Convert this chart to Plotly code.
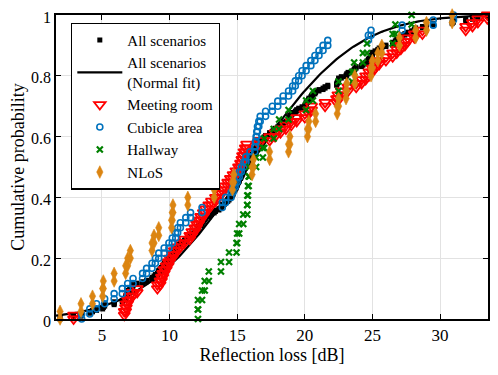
import math
import numpy as np
import plotly.graph_objects as go

# Reflection loss samples (dB), one list per scenario
meeting_room = [
    2.9, 6.65, 6.75, 6.8, 6.9, 7.05, 7.25, 7.6, 9.1, 9.3,
    9.4, 9.5, 9.6, 9.75, 9.9, 10.0, 10.2, 10.35, 10.6, 10.8,
    11.1, 11.5, 11.65, 11.85, 12.0, 12.15, 12.3, 12.5, 12.65, 12.9,
    13.1, 13.4, 13.65, 13.85, 14.05, 14.3, 14.5, 14.7, 14.9, 15.1,
    15.25, 15.35, 15.4, 15.5, 15.6, 15.7, 16.6, 17.4, 17.8, 18.2,
    18.6, 19.0, 19.4, 20.0, 20.3, 20.5, 21.5, 22.35, 22.45, 22.7,
    23.2, 23.8, 24.2, 24.5, 24.75, 25.0, 25.2, 25.5, 26.0, 26.5,
    26.8, 27.1, 27.4, 27.6, 28.1, 28.7, 31.9, 32.4, 32.8, 33.5,
]
cubicle_area = [
    3.5, 4.1, 4.6, 5.2, 5.9, 6.5, 6.9, 7.3, 8.0, 8.3,
    8.7, 8.95, 9.2, 9.6, 9.95, 10.2, 10.45, 10.6, 10.8, 11.2,
    11.55, 12.4, 13.9, 14.15, 14.55, 14.7, 14.85, 15.0, 15.15, 15.3,
    15.5, 15.65, 15.95, 16.3, 16.35, 16.4, 16.45, 16.5, 16.6, 16.7,
    17.1, 17.6, 18.0, 18.4, 18.8, 19.1, 19.3, 19.55, 19.8, 20.1,
    20.45, 20.75, 21.05, 21.35, 21.7, 24.7, 24.9, 27.2, 29.5, 31.0,
]
hallway = [
    12.1, 12.1, 12.4, 12.6, 12.9, 13.8, 14.4, 14.95, 15.0, 15.15,
    15.45, 15.75, 15.75, 15.8, 15.85, 15.9, 16.4, 16.9, 17.0, 17.7,
    18.1, 18.8, 20.1, 20.6, 22.5, 23.5, 23.65, 24.3, 24.6, 26.5,
    26.7, 27.9,
]
nlos = [
    1.9, 3.45, 4.3, 5.05, 5.1, 5.9, 6.75, 6.9, 7.1, 8.7,
    8.85, 9.2, 10.15, 10.2, 10.25, 11.35, 13.3, 14.65, 14.75, 16.1,
    16.2, 17.4, 18.8, 18.9, 20.2, 20.3, 20.8, 22.4, 22.5, 23.05,
    23.1, 23.7, 24.9, 25.0, 25.4, 25.7, 27.0, 28.2, 29.0, 30.9,
]
all_scenarios = meeting_room + cubicle_area + hallway + nlos

# normal fit parameters (dB)
fit_mean = 15.8
fit_std = 6.2
fit_span = [1.6, 33.55]

x_ticks = [5, 10, 15, 20, 25, 30]
y_ticks = [0, 0.2, 0.4, 0.6, 0.8, 1]
y_tick_labels = ['0', '0.2', '0.4', '0.6', '0.8', '1']

FONT = 'Liberation Serif, Times New Roman, serif'


def ecdf_stairs(samples):
    # corners of the empirical CDF staircase
    xs = np.sort(np.asarray(samples, dtype=float))
    n = len(xs)
    x = np.repeat(xs, 2)
    y = np.empty(2 * n)
    y[0::2] = np.arange(n) / n
    y[1::2] = np.arange(1, n + 1) / n
    return x, y


fit_x = np.linspace(fit_span[0], fit_span[1], 200)
fit_y = [0.5 * (1 + math.erf((v - fit_mean) / (fit_std * math.sqrt(2)))) for v in fit_x]

fig = go.Figure()

ax, ay = ecdf_stairs(all_scenarios)
fig.add_trace(go.Scatter(
    x=ax, y=ay, mode='markers', name='All scenarios',
    marker=dict(symbol='square', size=5, color='black'),
    cliponaxis=False,
))
fig.add_trace(go.Scatter(
    x=fit_x, y=fit_y, mode='lines', name='All scenarios<br>(Normal fit)',
    line=dict(color='black', width=2.2),
))

series = [
    ('Meeting room', meeting_room, dict(symbol='triangle-down-open', size=10, color='#FF0000',
                                        line=dict(width=1.8, color='#FF0000'))),
    ('Cubicle area', cubicle_area, dict(symbol='circle-open', size=6, color='#0072BD',
                                        line=dict(width=1.6, color='#0072BD'))),
    ('Hallway', hallway, dict(symbol='x-thin-open', size=6, color='#008000',
                              line=dict(width=2.2, color='#008000'))),
    ('NLoS', nlos, dict(symbol='diamond-tall', size=9, color='#DB8512',
                        line=dict(width=0.6, color='#DB8512'))),
]
for name, data, marker in series:
    sx, sy = ecdf_stairs(data)
    fig.add_trace(go.Scatter(x=sx, y=sy, mode='markers', name=name,
                             marker=marker, cliponaxis=False))

axis_style = dict(
    showline=True, linecolor='black', linewidth=1.5, mirror='ticks',
    ticks='inside', ticklen=5, tickwidth=1.2, tickcolor='black',
    showgrid=True, gridcolor='#E2E2E2', gridwidth=1, zeroline=False,
    automargin=False, ticklabeloverflow='allow',
)

# the page puts the figure 8px in from the top-left corner
fig.update_layout(
    width=490, height=367,
    margin=dict(l=48, r=10, t=7, b=56),
    plot_bgcolor='white', paper_bgcolor='white',
    font=dict(family=FONT, size=16, color='black'),
    xaxis=dict(range=fit_span, tickvals=x_ticks, tickfont=dict(size=17),
               title=dict(text='Reflection loss [dB]', font=dict(size=18), standoff=4),
               **axis_style),
    yaxis=dict(range=[0, 1], tickvals=y_ticks, ticktext=y_tick_labels,
               tickfont=dict(size=16), ticklabelshift=2,
               title=dict(text='Cumulative probability', font=dict(size=18), standoff=4),
               **axis_style),
    legend=dict(x=0.035, y=0.975, xanchor='left', yanchor='top',
                bordercolor='black', borderwidth=1.2, bgcolor='white',
                font=dict(size=15), tracegroupgap=0, itemwidth=45),
)

fig.write_html("out.html")
